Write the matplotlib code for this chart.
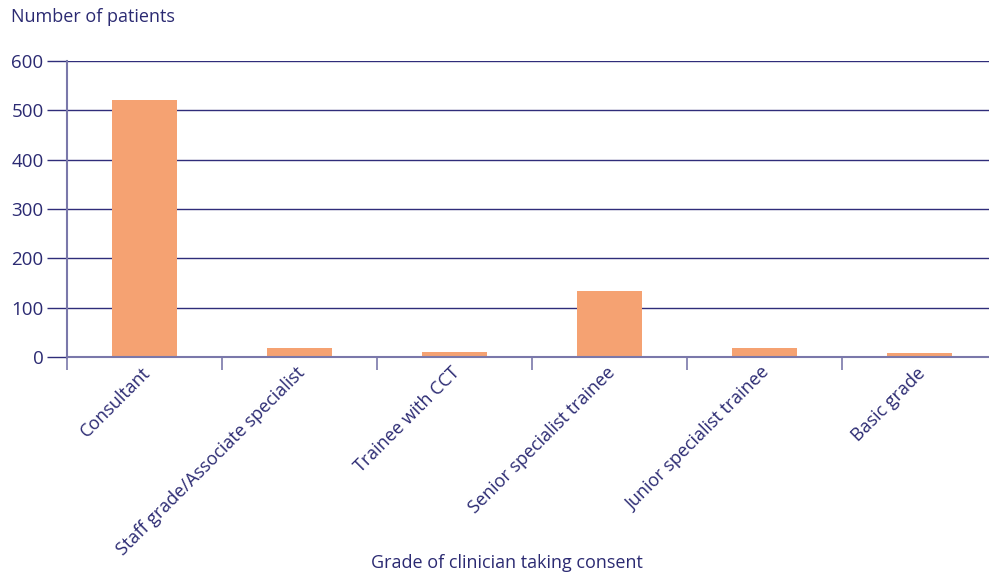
import matplotlib
matplotlib.use("Agg")
import matplotlib.pyplot as plt
import numpy as np

categories = [
    "Consultant",
    "Staff grade/Associate specialist",
    "Trainee with CCT",
    "Senior specialist trainee",
    "Junior specialist trainee",
    "Basic grade",
]
patients = [521, 18, 10, 134, 18, 8]
yticks = [0, 100, 200, 300, 400, 500, 600]

text_color = "#2b2a72"
grid_color = "#2f2d7a"
axis_color = "#7a78aa"
bar_color = "#f5a272"

plt.rcParams["font.family"] = ["Open Sans", "DejaVu Sans"]

fig = plt.figure(figsize=(9.89, 5.75), dpi=100)
ax = fig.add_axes([67 / 989, 1 - 357 / 575, 1 - 67 / 989, (357 - 61) / 575])

x = np.arange(len(categories))
ax.bar(x, patients, width=0.42, color=bar_color, zorder=3)

ax.set_yticks(yticks)
ax.set_yticklabels([str(v) for v in yticks], fontsize=13.5, color=text_color)
ax.yaxis.grid(True, color=grid_color, linewidth=1.0, zorder=1)
ax.tick_params(axis="y", length=14.4, width=1.0, color=grid_color, pad=2.5)

# category separators along the bottom axis
ax.set_xticks(np.arange(len(categories) + 1) - 0.5, minor=True)
ax.tick_params(axis="x", which="minor", length=9.4, width=1.2, color=axis_color, direction="out")
ax.set_xticks(x)
ax.set_xticklabels([])
ax.tick_params(axis="x", which="major", length=0)

ax.set_xlim(-0.5, 5.448)
ax.set_ylim(0, 600)

for xi, label in zip(x, categories):
    ax.annotate(label, xy=(xi, 0), xycoords="data", xytext=(2, -9.5),
                textcoords="offset points", rotation=45, rotation_mode="anchor",
                ha="right", va="center", fontsize=13, color=text_color)

for side in ["top", "right"]:
    ax.spines[side].set_visible(False)
ax.spines["left"].set_color(axis_color)
ax.spines["left"].set_linewidth(1.5)
ax.spines["left"].set_bounds(0, 600)
ax.spines["bottom"].set_color(axis_color)
ax.spines["bottom"].set_linewidth(1.5)
ax.spines["bottom"].set_zorder(4)

fig.text(11 / 989, 1 - 17 / 575, "Number of patients", fontsize=13,
         color=text_color, ha="left", va="center")
fig.text(507 / 989, 1 - 563 / 575, "Grade of clinician taking consent", fontsize=13,
         color=text_color, ha="center", va="center")

fig.savefig("out.png", dpi=100)
